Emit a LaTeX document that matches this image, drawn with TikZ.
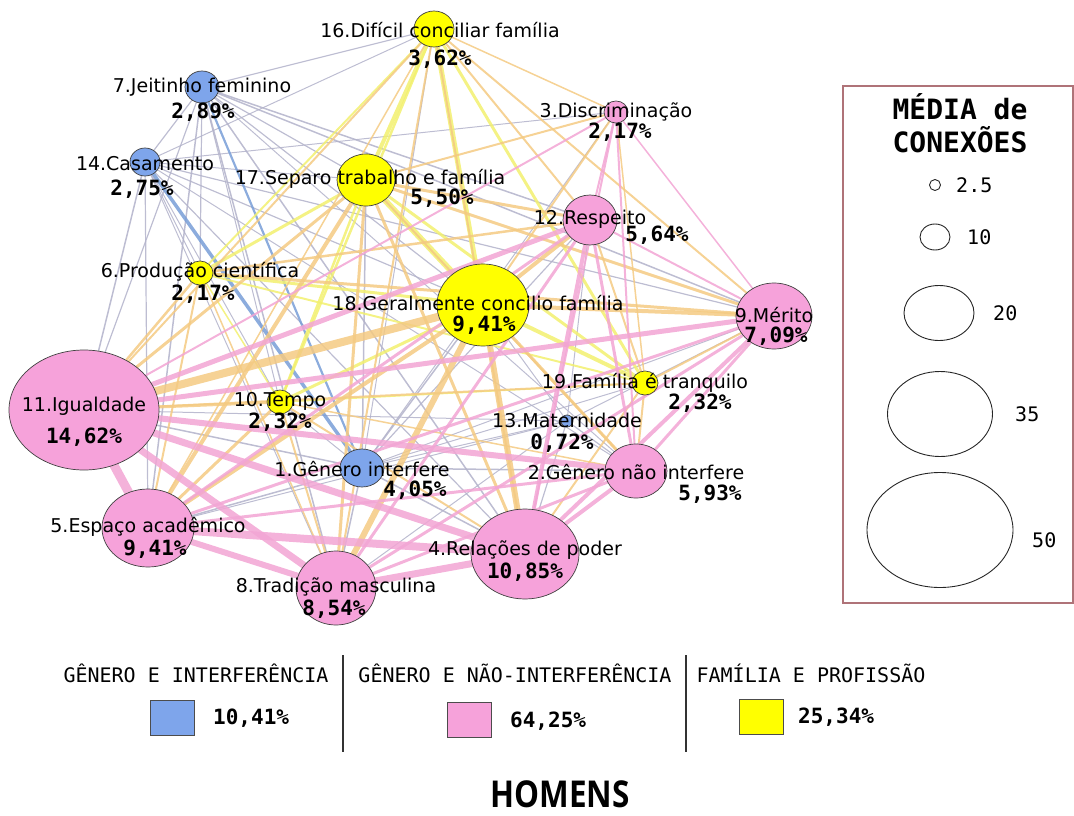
\documentclass[tikz,border=0pt]{standalone}
\usepackage{fontspec}
\setmainfont{DejaVu Sans}
\newfontfamily\monofont{DejaVu Sans Mono}
\newfontfamily\titlefont[FakeStretch=0.85]{Open Sans}
\usetikzlibrary{shapes.geometric}
\definecolor{azul}{RGB}{126,165,235}
\definecolor{rosa}{RGB}{246,162,218}
\definecolor{amarelo}{RGB}{255,255,0}
\definecolor{arosa}{RGB}{242,165,212}
\definecolor{alaranja}{RGB}{244,202,130}
\definecolor{aamarelo}{RGB}{242,240,110}
\definecolor{aazul}{RGB}{120,158,215}
\definecolor{acinza}{RGB}{178,178,202}
\definecolor{caixa}{RGB}{175,115,120}
\pgfdeclarelayer{edges}
\pgfsetlayers{edges,main}

\begin{document}
\begin{tikzpicture}[
        x=1pt,y=-1pt,
        no/.style={ellipse,draw=black!75,line width=0.7pt,inner sep=0pt},
        azulno/.style={no,fill=azul},
        rosano/.style={no,fill=rosa},
        amarelono/.style={no,fill=amarelo},
        nome/.style={inner sep=0pt,font=\fontsize{19}{21}\selectfont},
        pct/.style={inner sep=0pt,font=\monofont\bfseries\fontsize{21}{22}\selectfont},
        aresta/.style={opacity=0.85,line cap=round},
        leg/.style={ellipse,draw=black!85,line width=0.9pt,inner sep=0pt},
        legnum/.style={inner sep=0pt,font=\monofont\fontsize{20}{22}\selectfont},
        grupo/.style={inner sep=0pt,font=\monofont\fontsize{20}{22}\selectfont},
        quadro/.style={draw=black!70,line width=1pt,minimum width=44,minimum height=35,inner sep=0pt}
    ]
    \useasboundingbox (0,0) rectangle (1074,816);
    % nos
    \node[azulno,minimum width=44,minimum height=38]   (n1)  at (362,468) {};
    \node[rosano,minimum width=62,minimum height=54]   (n2)  at (636,471) {};
    \node[rosano,minimum width=24,minimum height=22]   (n3)  at (616,112) {};
    \node[rosano,minimum width=108,minimum height=90]  (n4)  at (525,554) {};
    \node[rosano,minimum width=92,minimum height=78]   (n5)  at (148,528) {};
    \node[amarelono,minimum width=26,minimum height=24] (n6) at (200,273) {};
    \node[azulno,minimum width=34,minimum height=32]   (n7)  at (202,87) {};
    \node[rosano,minimum width=80,minimum height=74]   (n8)  at (336,588) {};
    \node[rosano,minimum width=76,minimum height=66]   (n9)  at (774,316) {};
    \node[amarelono,minimum width=26,minimum height=24] (n10) at (280,402) {};
    \node[rosano,minimum width=150,minimum height=120] (n11) at (84,410) {};
    \node[rosano,minimum width=54,minimum height=50]   (n12) at (590,220) {};
    \node[azulno,minimum width=12,minimum height=12]   (n13) at (567,421) {};
    \node[azulno,minimum width=30,minimum height=28]   (n14) at (145,162) {};
    \node[amarelono,minimum width=40,minimum height=36] (n16) at (434,29) {};
    \node[amarelono,minimum width=58,minimum height=52] (n17) at (366,180) {};
    \node[amarelono,minimum width=92,minimum height=82] (n18) at (483,305) {};
    \node[amarelono,minimum width=26,minimum height=24] (n19) at (645,383) {};

    \begin{pgfonlayer}{edges}
    \foreach \a/\b/\w in {7/16/1.2,14/16/1,7/14/1.2,7/12/1.5,7/9/1.5,14/3/1,14/9/1.2,14/18/1.2,
        7/18/1.2,7/17/1.2,14/17/1,14/11/1.5,7/11/1.2,14/5/1.2,7/5/1.5,14/6/1,7/6/1.2,14/10/1,
        7/10/1,14/8/1,7/8/1.5,14/4/1.2,7/4/1.5,14/2/1,7/2/1,1/11/1.5,1/5/1.5,1/8/1.5,1/4/1.5,
        1/2/1.5,1/18/1.5,1/12/1.2,1/9/1,1/17/1.5,1/10/1,1/16/1,1/3/1,1/19/1,13/11/1,13/4/1.2,
        13/2/1.2,13/12/1,13/9/1,13/18/1,13/5/1,13/8/1,13/1/1}
        \draw[aresta,acinza,line width=\w] (n\a) -- (n\b);
    \foreach \a/\b/\w in {14/1/3.5,7/1/2.2}
        \draw[aresta,aazul,line width=\w] (n\a) -- (n\b);
    \foreach \a/\b/\w in {16/17/4,16/18/5,17/18/6,16/6/2,16/10/2.5,16/19/3,17/6/3,17/10/2.5,
        17/19/3,18/19/4,18/10/3,18/6/3,6/10/1.5,10/19/1.5,6/19/2}
        \draw[aresta,aamarelo,line width=\w] (n\a) -- (n\b);
    \foreach \a/\b/\w in {11/18/8,8/18/6,4/18/6,5/18/4,5/17/4,11/17/3,11/6/2.5,11/10/3,11/16/2,
        11/19/2,5/10/3,5/6/2,8/17/3,8/16/2,8/10/2,4/17/3,4/16/2,4/19/2,12/18/4,12/17/3,12/16/2,
        12/6/2.5,9/18/4,9/17/3,9/16/2,9/6/3,9/19/2,2/18/3,2/19/2,2/17/2,3/17/2,3/18/2,3/16/1.5,
        5/16/1.5,12/19/2,4/10/2,8/6/1.5,2/10/1.5,3/19/1.5}
        \draw[aresta,alaranja,line width=\w] (n\a) -- (n\b);
    \foreach \a/\b/\w in {11/5/9,11/8/7,11/4/7,11/12/5,11/9/5,11/2/6,5/4/8,5/8/6,8/4/7,5/12/3,
        5/9/3,5/2/3,8/9/3,8/12/3,8/2/3,4/12/4,4/9/4,4/2/4,4/3/2,2/9/3,2/12/3,2/3/2,12/9/2,
        12/3/2,11/3/2,9/3/1.5}
        \draw[aresta,arosa,line width=\w] (n\a) -- (n\b);
    \end{pgfonlayer}

    % rotulos
    \node[nome] (l1)  at (362,469) {1.Gênero interfere};
    \node[pct]  (p1)  at (415,490) {4,05\%};
    \node[nome] (l2)  at (636,472) {2.Gênero não interfere};
    \node[pct]  (p2)  at (710,494) {5,93\%};
    \node[nome] (l3)  at (616,112) {3.Discriminação};
    \node[pct]  (p3)  at (620,132) {2,17\%};
    \node[nome] (l4)  at (525,550) {4.Relações de poder};
    \node[pct]  (p4)  at (525,572) {10,85\%};
    \node[nome] (l5)  at (148,527) {5.Espaço acadêmico};
    \node[pct]  (p5)  at (155,549) {9,41\%};
    \node[nome] (l6)  at (200,272) {6.Produção científica};
    \node[pct]  (p6)  at (203,294) {2,17\%};
    \node[nome] (l7)  at (202,87)  {7.Jeitinho feminino};
    \node[pct]  (p7)  at (203,112) {2,89\%};
    \node[nome] (l8)  at (336,587) {8.Tradição masculina};
    \node[pct]  (p8)  at (334,609) {8,54\%};
    \node[nome] (l9)  at (774,315) {9.Mérito};
    \node[pct]  (p9)  at (776,336) {7,09\%};
    \node[nome] (l10) at (280,401) {10.Tempo};
    \node[pct]  (p10) at (280,422) {2,32\%};
    \node[nome] (l11) at (84,406)  {11.Igualdade};
    \node[pct]  (p11) at (84,437)  {14,62\%};
    \node[nome] (l12) at (590,219) {12.Respeito};
    \node[pct]  (p12) at (657,235) {5,64\%};
    \node[nome] (l13) at (567,420) {13.Maternidade};
    \node[pct]  (p13) at (562,443) {0,72\%};
    \node[nome] (l14) at (145,164) {14.Casamento};
    \node[pct]  (p14) at (142,189) {2,75\%};
    \node[nome] (l16) at (440,30)  {16.Difícil conciliar família};
    \node[pct]  (p16) at (440,59)  {3,62\%};
    \node[nome] (l17) at (370,179) {17.Separo trabalho e família};
    \node[pct]  (p17) at (442,198) {5,50\%};
    \node[nome] (l18) at (478,303) {18.Geralmente concilio família};
    \node[pct]  (p18) at (484,325) {9,41\%};
    \node[nome] (l19) at (645,383) {19.Família é tranquilo};
    \node[pct]  (p19) at (700,403) {2,32\%};

    % legenda de tamanhos
    \draw[caixa,line width=1.3pt] (843,86) rectangle (1073,603);
    \node[inner sep=0pt,align=center,font=\monofont\bfseries\fontsize{28}{33}\selectfont]
        (titleg) at (960,123) {MÉDIA de\\CONEXÕES};
    \node[leg,minimum width=11,minimum height=11]  (e1) at (935,185) {};
    \node[legnum,anchor=west] (t1) at (956,185) {2.5};
    \node[leg,minimum width=30,minimum height=26]  (e2) at (935,237) {};
    \node[legnum,anchor=west] (t2) at (967,237) {10};
    \node[leg,minimum width=70,minimum height=55]  (e3) at (939,313) {};
    \node[legnum,anchor=west] (t3) at (993,313) {20};
    \node[leg,minimum width=105,minimum height=85] (e4) at (940,414) {};
    \node[legnum,anchor=west] (t4) at (1015,414) {35};
    \node[leg,minimum width=146,minimum height=115] (e5) at (940,530) {};
    \node[legnum,anchor=west] (t5) at (1032,540) {50};

    % legenda de grupos
    \node[grupo] (g1) at (196,673) {GÊNERO E INTERFERÊNCIA};
    \node[grupo] (g2) at (515,673) {GÊNERO E NÃO-INTERFERÊNCIA};
    \node[grupo] (g3) at (811,673) {FAMÍLIA E PROFISSÃO};
    \draw[black!80,line width=1.5pt] (343,655) -- (343,752);
    \draw[black!80,line width=1.5pt] (686,655) -- (686,752);
    \node[quadro,fill=azul]    (q1) at (172,718) {};
    \node[pct,anchor=west] (v1) at (213,718) {10,41\%};
    \node[quadro,fill=rosa]    (q2) at (469,720) {};
    \node[pct,anchor=west] (v2) at (510,721) {64,25\%};
    \node[quadro,fill=amarelo] (q3) at (761,717) {};
    \node[pct,anchor=west] (v3) at (798,717) {25,34\%};

    \node[inner sep=0pt,font=\titlefont\bfseries\fontsize{37}{40}\selectfont] (titulo) at (560,794) {HOMENS};
\end{tikzpicture}
\end{document}
